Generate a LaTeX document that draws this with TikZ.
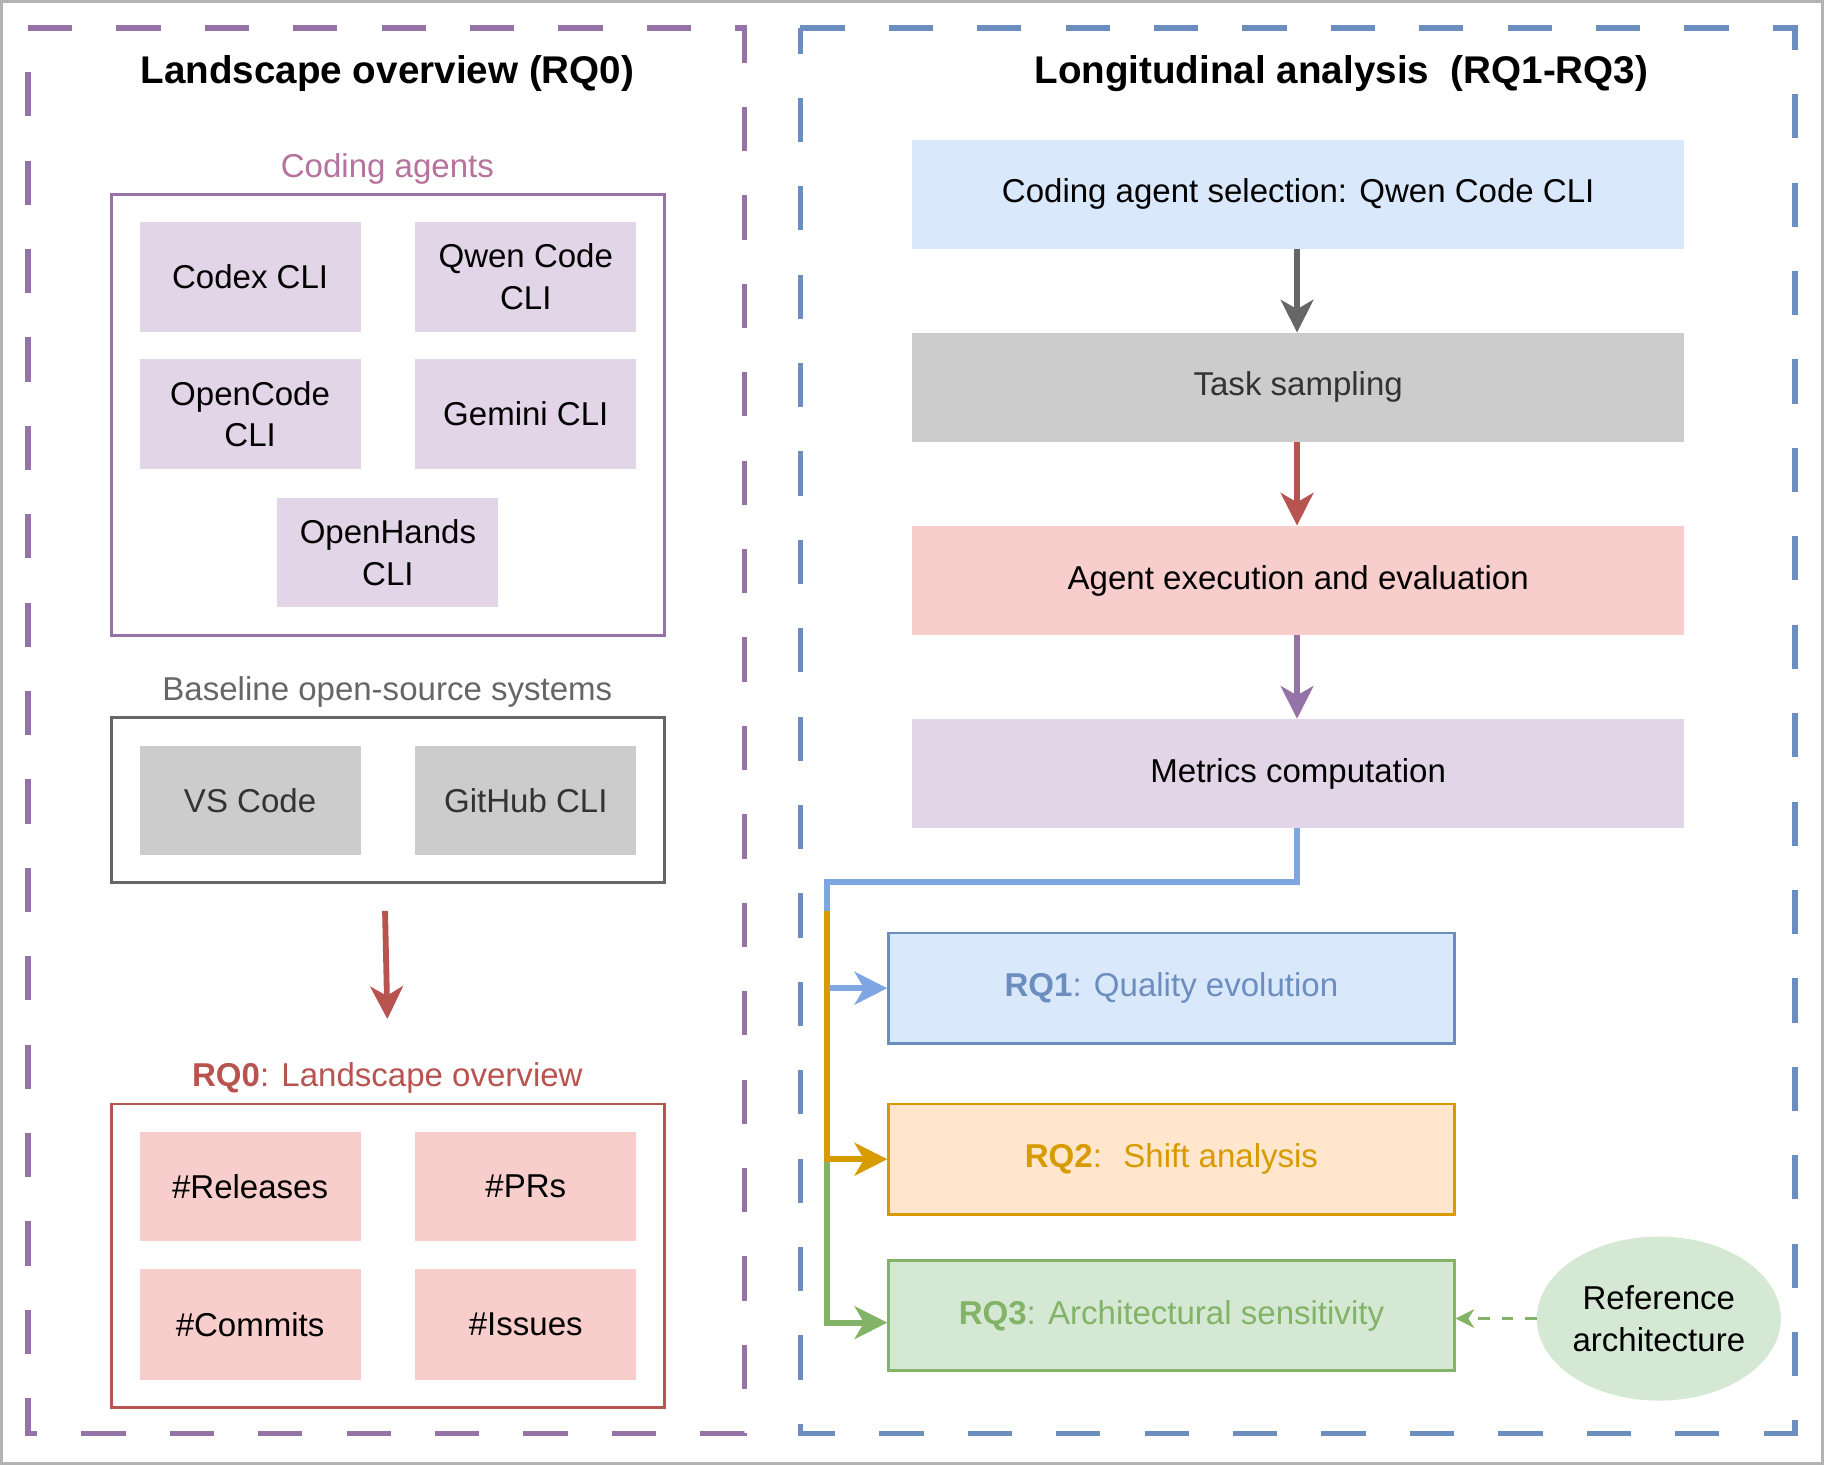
\documentclass[tikz,border=0pt]{standalone}
\usepackage{fontspec}
\setmainfont{Liberation Sans}
\usetikzlibrary{arrows.meta,shapes.geometric,calc}
\definecolor{purS}{HTML}{9673A6}
\definecolor{purF}{HTML}{E1D5E7}
\definecolor{bluS}{HTML}{6C8EBF}
\definecolor{bluF}{HTML}{DAE8FC}
\definecolor{bluC}{HTML}{7EA6E0}
\definecolor{redS}{HTML}{B85450}
\definecolor{redF}{HTML}{F8CECC}
\definecolor{oraS}{HTML}{D79B00}
\definecolor{oraF}{HTML}{FFE6CC}
\definecolor{grnS}{HTML}{82B366}
\definecolor{grnF}{HTML}{D5E8D4}
\definecolor{gryF}{HTML}{CCCCCC}
\definecolor{gryS}{HTML}{666666}
\definecolor{gryT}{HTML}{333333}
\definecolor{pinkT}{HTML}{B5739D}
\definecolor{frameC}{HTML}{B3B3B3}
\tikzset{
  x=1pt, y=-1pt,
  body/.style={font=\fontsize{28.4}{36}\selectfont},
  ttl/.style={font=\bfseries\fontsize{33.2}{40}\selectfont},
  tile/.style={body, minimum width=190, minimum height=94, inner sep=0, align=center},
  wide/.style={body, minimum width=664, minimum height=94, inner sep=0, align=center},
  rqbox/.style={body, minimum width=486, minimum height=95, inner sep=0, line width=2.5, draw},
  group/.style={inner sep=0, line width=2.5, draw},
  panel/.style={line width=4.5, dash pattern=on 38 off 38},
  conn/.style={line width=5, line join=miter},
  tip/.style={-{Stealth[length=28pt,width=28pt,inset=8pt]}},
}
\begin{document}
\begin{tikzpicture}
\useasboundingbox (0,0) rectangle (1568,1259);
\fill[white] (0,0) rectangle (1568,1259);
\draw[frameC, line width=2.5] (1,1) rectangle (1567,1258);

% panels
\draw[purS, panel] (24,24) -- (640,24) -- (640,1232) -- (24,1232) -- cycle;
\draw[bluS, panel] (688,24) -- (1543,24) -- (1543,1232) -- (688,1232) -- cycle;
\node[ttl] (t0) at (333,63) {Landscape overview (RQ0)};
\node[ttl] (t1) at (1153,63) {Longitudinal analysis \ (RQ1-RQ3)};

% coding agents
\node[body, text=pinkT] (lagents) at (333,145) {Coding agents};
\node[group, draw=purS, minimum width=475, minimum height=379] (agents) at (333.5,356.5) {};
\node[tile, fill=purF] (codex) at (215,238) {Codex CLI};
\node[tile, fill=purF] (qwen) at (452,238) {Qwen Code\\CLI};
\node[tile, fill=purF] (opencode) at (215,356) {OpenCode\\CLI};
\node[tile, fill=purF] (gemini) at (452,356) {Gemini CLI};
\node[tile, fill=purF] (openhands) at (333.5,475) {OpenHands\\CLI};

% baseline
\node[body, text=gryS] (lbase) at (333,595) {Baseline open-source systems};
\node[group, draw=gryS, minimum width=475, minimum height=142] (base) at (333.5,688) {};
\node[tile, fill=gryF, text=gryT] (vscode) at (215,688) {VS Code};
\node[tile, fill=gryF, text=gryT] (github) at (452,688) {GitHub CLI};

% arrow to RQ0
\coordinate (a0s) at (331,783);
\coordinate (a0e) at (333,876);
\draw[redS, conn, tip] (a0s) -- (a0e);

% RQ0
\node[body, text=redS] (lrq0) at (333,927) {\textbf{RQ0}: Landscape overview};
\node[group, draw=redS, minimum width=475, minimum height=261] (rq0) at (333.5,1079.5) {};
\node[tile, fill=redF] (rel) at (215,1020) {\#Releases};
\node[tile, fill=redF] (prs) at (452,1020) {\#PRs};
\node[tile, fill=redF, minimum height=95] (com) at (215,1138.5) {\#Commits};
\node[tile, fill=redF, minimum height=95] (iss) at (452,1138.5) {\#Issues};

% right pipeline
\node[wide, fill=bluF] (sel) at (1116,167) {Coding agent selection: Qwen Code CLI};
\node[wide, fill=gryF, text=gryT] (task) at (1116,333) {Task sampling};
\node[wide, fill=redF] (exec) at (1116,499) {Agent execution and evaluation};
\node[wide, fill=purF] (metrics) at (1116,665) {Metrics computation};
\draw[gryS, conn, tip] ([xshift=-1]sel.south) -- ([xshift=-1]task.north);
\draw[redS, conn, tip] ([xshift=-1]task.south) -- ([xshift=-1]exec.north);
\draw[purS, conn, tip] ([xshift=-1]exec.south) -- ([xshift=-1]metrics.north);

% RQ boxes
\node[rqbox, fill=bluF, draw=bluS, text=bluS] (rq1) at (1007,849.5) {\textbf{RQ1}: Quality evolution};
\node[rqbox, fill=oraF, draw=oraS, text=oraS] (rq2) at (1007,996.5) {\textbf{RQ2}: \ Shift analysis};
\node[rqbox, fill=grnF, draw=grnS, text=grnS] (rq3) at (1007,1131) {\textbf{RQ3}: Architectural sensitivity};
\node[body, ellipse, fill=grnF, minimum width=202, minimum height=141, inner sep=0, align=center] (ref) at (1426,1133.5) {Reference\\architecture};

% connectors from metrics
\coordinate (trunk) at (711,758);
\coordinate (trunkb) at (711,783);
\draw[grnS, conn, tip] (rq2.west -| trunk) |- ([yshift=-6]rq3.west);
\draw[oraS, conn, tip] (trunkb) |- (rq2.west);
\draw[bluC, conn] ([xshift=-1]metrics.south) |- (trunk) -- (trunkb);
\draw[bluC, conn, tip] ([xshift=2]rq1.west -| trunk) -- (rq1.west);
\draw[grnS, line width=2.5, dash pattern=on 10 off 10, -{Stealth[length=16pt,width=16pt,inset=5pt]}] (ref.west) -- (ref.west -| rq3.east);
\end{tikzpicture}
\end{document}
